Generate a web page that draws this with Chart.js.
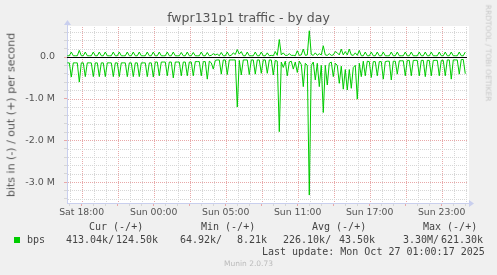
<!DOCTYPE html>
<html>
<head>
<meta charset="utf-8">
<script src="https://cdn.jsdelivr.net/npm/chart.js@4"></script>
<style>
  body { margin: 0; background: #f0f0f0; }
  #wrap { position: relative; width: 497px; height: 275px; background: #f0f0f0; }
  #wrap div { position: absolute; white-space: pre; line-height: 1; }
  .sans { font-family: 'DejaVu Sans', sans-serif; color: #555; }
  .mono { font-family: 'DejaVu Sans Mono', monospace; font-size: 10px; color: #444; }
</style>
</head>
<body>
<div id="wrap">
  <canvas id="trafficChart" width="497" height="275"></canvas>
  <div class="sans" style="left:0;width:497px;top:12px;text-align:center;font-size:12.5px;">fwpr131p1 traffic - by day</div>
  <div class="sans" style="left:10.5px;top:115px;font-size:11px;transform:translate(-50%,-50%) rotate(-90deg);">bits in (-) / out (+) per second</div>
  <div class="sans" style="left:488px;top:53px;font-size:7.5px;color:#c8c8c8;transform:translate(-50%,-50%) rotate(90deg);">RRDTOOL / TOBI OETIKER</div>

  <div class="mono" style="left:89px;top:222px;">Cur (-/+)</div>
  <div class="mono" style="left:201px;top:222px;">Min (-/+)</div>
  <div class="mono" style="left:312px;top:222px;">Avg (-/+)</div>
  <div class="mono" style="left:423px;top:222px;">Max (-/+)</div>

  <div style="left:14px;top:237px;width:6px;height:6px;background:#00cc00;"></div>
  <div class="mono" style="left:27px;top:235px;">bps</div>
  <div class="mono" style="left:66px;top:235px;">413.04k/</div>
  <div class="mono" style="left:116px;top:235px;">124.50k</div>
  <div class="mono" style="left:180px;top:235px;">64.92k/</div>
  <div class="mono" style="left:237px;top:235px;">8.21k</div>
  <div class="mono" style="left:283px;top:235px;">226.10k/</div>
  <div class="mono" style="left:339px;top:235px;">43.50k</div>
  <div class="mono" style="left:403px;top:235px;">3.30M/</div>
  <div class="mono" style="left:441px;top:235px;">621.30k</div>

  <div class="mono" style="left:262px;top:247px;">Last update: Mon Oct 27 01:00:17 2025</div>
  <div class="sans" style="left:0;width:497px;top:260px;text-align:center;font-size:7.5px;color:#bbb;">Munin 2.0.73</div>
</div>
<script>
// hours since Sat 18:00, one sample every 10 minutes
const startHour = -1.2;
const stepHours = 1 / 6;

// values in M bits per second
const outValues = [
  0.03,0.03,0.12,0.03,0.03,0.03,0.16,0.03,0.03,0.12,0.03,0.03,0.03,0.12,0.03,0.03,0.12,0.03,0.03,0.12,
  0.03,0.03,0.03,0.12,0.03,0.03,0.12,0.03,0.03,0.03,0.12,0.03,0.03,0.12,0.03,0.03,0.12,0.03,0.03,0.03,
  0.12,0.03,0.03,0.12,0.03,0.03,0.12,0.03,0.03,0.03,0.12,0.03,0.03,0.12,0.03,0.03,0.03,0.11,0.03,0.03,
  0.12,0.03,0.03,0.11,0.03,0.03,0.03,0.12,0.03,0.03,0.11,0.03,0.04,0.08,0.05,0.07,0.03,0.11,0.03,0.03,
  0.12,0.03,0.04,0.10,0.06,0.18,0.07,0.13,0.03,0.03,0.12,0.03,0.03,0.03,0.12,0.03,0.03,0.12,0.03,0.03,
  0.10,0.03,0.04,0.03,0.13,0.04,0.42,0.05,0.10,0.04,0.04,0.08,0.04,0.04,0.03,0.15,0.04,0.05,0.19,0.04,
  0.05,0.63,0.06,0.04,0.10,0.04,0.08,0.05,0.27,0.05,0.04,0.08,0.04,0.05,0.13,0.10,0.05,0.19,0.05,0.13,
  0.05,0.19,0.05,0.04,0.10,0.04,0.16,0.03,0.03,0.12,0.03,0.03,0.12,0.03,0.03,0.12,0.03,0.03,0.12,0.03,
  0.03,0.03,0.12,0.03,0.03,0.12,0.03,0.03,0.03,0.12,0.03,0.03,0.12,0.03,0.03,0.03,0.12,0.03,0.03,0.12,
  0.03,0.03,0.12,0.03,0.03,0.03,0.12,0.03,0.03,0.12,0.03,0.03,0.12,0.03,0.03,0.03,0.12,0.03,0.03,0.12
];
const inValues = [
  -0.14,-0.14,-0.48,-0.14,-0.14,-0.14,-0.60,-0.14,-0.14,-0.47,-0.14,-0.14,-0.14,-0.47,-0.14,-0.14,-0.47,-0.14,-0.14,-0.47,
  -0.14,-0.14,-0.14,-0.47,-0.14,-0.14,-0.47,-0.14,-0.14,-0.14,-0.47,-0.14,-0.14,-0.47,-0.14,-0.14,-0.47,-0.14,-0.14,-0.14,
  -0.47,-0.14,-0.14,-0.48,-0.12,-0.12,-0.45,-0.12,-0.12,-0.12,-0.45,-0.12,-0.12,-0.50,-0.12,-0.12,-0.12,-0.45,-0.12,-0.12,
  -0.45,-0.12,-0.12,-0.45,-0.11,-0.11,-0.11,-0.45,-0.11,-0.11,-0.53,-0.10,-0.14,-0.29,-0.08,-0.07,-0.07,-0.41,-0.07,-0.07,
  -0.42,-0.07,-0.07,-0.07,-0.07,-1.20,-0.08,-0.43,-0.07,-0.07,-0.07,-0.42,-0.07,-0.07,-0.41,-0.07,-0.07,-0.39,-0.07,-0.07,
  -0.39,-0.07,-0.07,-0.43,-0.08,-0.10,-1.79,-0.12,-0.25,-0.10,-0.45,-0.12,-0.10,-0.29,-0.12,-0.37,-0.10,-0.18,-0.71,-0.15,
  -0.20,-3.31,-0.20,-0.12,-0.55,-0.15,-0.71,-0.20,-1.33,-0.20,-0.67,-0.15,-0.12,-0.47,-0.15,-0.20,-0.63,-0.22,-0.77,-0.30,
  -0.79,-0.30,-0.75,-0.25,-0.20,-1.01,-0.15,-0.47,-0.10,-0.45,-0.10,-0.11,-0.49,-0.11,-0.11,-0.45,-0.11,-0.11,-0.53,-0.11,
  -0.10,-0.10,-0.55,-0.10,-0.10,-0.41,-0.09,-0.09,-0.09,-0.45,-0.08,-0.08,-0.45,-0.08,-0.08,-0.08,-0.45,-0.08,-0.08,-0.47,
  -0.08,-0.08,-0.45,-0.08,-0.08,-0.08,-0.45,-0.08,-0.08,-0.45,-0.07,-0.07,-0.53,-0.07,-0.07,-0.07,-0.41,-0.06,-0.06,-0.40
];

const xTickHours = [0, 6, 12, 18, 24, 30];
const xTickLabels = ['Sat 18:00', 'Sun 00:00', 'Sun 05:00', 'Sun 11:00', 'Sun 17:00', 'Sun 23:00'];
const yTickValues = [0, -1, -2, -3];
const yTickLabels = ['0.0', '-1.0 M', '-2.0 M', '-3.0 M'];

const xMin = -1.225, xMax = 32.11;
const yMin = -3.5, yMax = 0.72;

const toPoints = vals => vals.map((v, i) => ({ x: startHour + i * stepHours, y: v }));

const green = '#00cc00';
const minorGrid = '#d6d6d6';
const majorGrid = '#e8a8a8';
const axisColor = '#c9cfee';
const isWhole = v => Math.abs(v - Math.round(v)) < 1e-6;
const xMajor = c => c.tick && c.tick.value % 3 === 0;
const yMajor = c => c.tick && isWhole(c.tick.value);

const plotBackground = {
  id: 'plotBackground',
  beforeDraw(chart) {
    const { ctx, chartArea: a } = chart;
    ctx.save();
    ctx.fillStyle = '#ffffff';
    ctx.fillRect(a.left, a.top - 1, a.right - a.left + 2, a.bottom - a.top + 1);
    ctx.restore();
  }
};

// rrdtool-style dotted grid, one pixel on, one off
const dottedGrid = {
  id: 'dottedGrid',
  beforeDatasetsDraw(chart) {
    const { ctx, chartArea: a, scales } = chart;
    ctx.save();
    scales.x.ticks.forEach(t => {
      const px = Math.round(scales.x.getPixelForValue(t.value));
      if (px <= a.left || px > a.right) return;
      ctx.fillStyle = t.value % 3 === 0 ? majorGrid : minorGrid;
      for (let py = Math.ceil(a.top); py < a.bottom; py += 2) ctx.fillRect(px, py, 1, 1);
    });
    scales.y.ticks.forEach(t => {
      const py = Math.round(scales.y.getPixelForValue(t.value));
      if (py < a.top || py >= a.bottom) return;
      ctx.fillStyle = isWhole(t.value) ? majorGrid : minorGrid;
      for (let px = Math.ceil(a.left) + 1; px < a.right; px += 2) ctx.fillRect(px, py, 1, 1);
    });
    ctx.restore();
  }
};

const zeroLineAndArrows = {
  id: 'zeroLineAndArrows',
  afterDatasetsDraw(chart) {
    const { ctx, chartArea: a, scales } = chart;
    const y0 = Math.round(scales.y.getPixelForValue(0)) + 0.5;
    ctx.save();
    ctx.strokeStyle = '#000';
    ctx.lineWidth = 1;
    ctx.beginPath();
    ctx.moveTo(a.left, y0);
    ctx.lineTo(a.right, y0);
    ctx.stroke();
    // axis arrows
    ctx.fillStyle = axisColor;
    ctx.strokeStyle = axisColor;
    ctx.beginPath();
    ctx.moveTo(a.left + 0.5, a.top);
    ctx.lineTo(a.left + 0.5, a.top - 3);
    ctx.stroke();
    ctx.beginPath();
    ctx.moveTo(a.left - 3, a.top - 2);
    ctx.lineTo(a.left + 4, a.top - 2);
    ctx.lineTo(a.left + 0.5, a.top - 7);
    ctx.closePath();
    ctx.fill();
    ctx.beginPath();
    ctx.moveTo(a.right, a.bottom + 0.5);
    ctx.lineTo(a.right + 3, a.bottom + 0.5);
    ctx.stroke();
    ctx.beginPath();
    ctx.moveTo(a.right + 2, a.bottom - 3);
    ctx.lineTo(a.right + 2, a.bottom + 4);
    ctx.lineTo(a.right + 7, a.bottom + 0.5);
    ctx.closePath();
    ctx.fill();
    ctx.restore();
  }
};

new Chart(document.getElementById('trafficChart'), {
  type: 'line',
  data: {
    datasets: [
      { label: 'bps out', data: toPoints(outValues), borderColor: green, borderWidth: 1, pointRadius: 0, tension: 0, fill: false },
      { label: 'bps in', data: toPoints(inValues), borderColor: green, borderWidth: 1, pointRadius: 0, tension: 0, fill: false }
    ]
  },
  options: {
    responsive: false,
    devicePixelRatio: 1,
    animation: false,
    events: [],
    layout: { padding: { left: 0, top: 27, right: 30, bottom: 52 } },
    plugins: { legend: { display: false }, tooltip: { enabled: false } },
    scales: {
      x: {
        type: 'linear',
        min: xMin,
        max: xMax,
        afterFit: s => { s.height = 20; },
        afterBuildTicks: s => {
          const t = [];
          for (let h = Math.ceil(xMin); h <= xMax; h++) t.push({ value: h });
          s.ticks = t;
        },
        ticks: {
          autoSkip: false,
          maxRotation: 0,
          padding: 1,
          color: '#555',
          font: { family: 'DejaVu Sans', size: 9.3 },
          callback: v => {
            const k = xTickHours.indexOf(v);
            return k >= 0 ? xTickLabels[k] : '';
          }
        },
        grid: {
          drawOnChartArea: false,
          tickColor: c => xMajor(c) ? majorGrid : minorGrid,
          tickLength: 3
        },
        border: { color: axisColor, width: 1 }
      },
      y: {
        min: yMin,
        max: yMax,
        afterFit: s => { s.width = 67; },
        afterBuildTicks: s => {
          const t = [];
          for (let k = -17; k <= 3; k++) t.push({ value: k / 5 });
          s.ticks = t;
        },
        ticks: {
          autoSkip: false,
          padding: 9,
          color: '#555',
          font: { family: 'DejaVu Sans', size: 9.5 },
          callback: v => {
            const k = yTickValues.findIndex(y => Math.abs(y - v) < 1e-6);
            return k >= 0 ? yTickLabels[k] : '';
          }
        },
        grid: {
          drawOnChartArea: false,
          tickColor: c => yMajor(c) ? majorGrid : minorGrid,
          tickLength: 3
        },
        border: { color: axisColor, width: 1 }
      }
    }
  },
  plugins: [plotBackground, dottedGrid, zeroLineAndArrows]
});
</script>
</body>
</html>
